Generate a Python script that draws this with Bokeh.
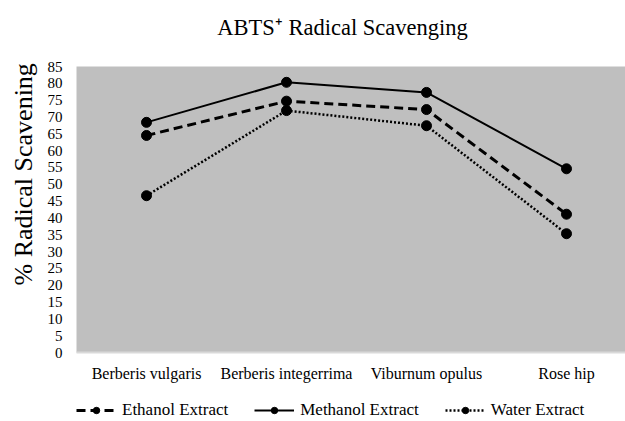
from bokeh.plotting import figure
from bokeh.layouts import column
from bokeh.models import (FixedTicker, Range1d, Legend, LegendItem, Label, Title, ColumnDataSource)
from bokeh.embed import file_html
from bokeh.resources import INLINE

categories = ["Berberis vulgaris", "Berberis integerrima", "Viburnum opulus", "Rose hip"]
ethanol = [64.5, 74.7, 72.2, 41.1]
methanol = [68.4, 80.3, 77.3, 54.6]
water = [46.6, 71.9, 67.4, 35.3]
series_names = ["Ethanol Extract", "Methanol Extract", "Water Extract"]
y_ticks = list(range(0, 90, 5))
title_text = "ABTS\u207a Radical Scavenging"
y_title = "% Radical Scavening"

FONT = "Liberation Serif"
xpos = [i + 0.5 for i in range(len(categories))]

# ---- title strip
tf = figure(width=625, height=46, output_backend="svg", toolbar_location=None,
            x_range=Range1d(0, 1), y_range=Range1d(0, 1),
            x_axis_type=None, y_axis_type=None,
            min_border_left=76, min_border_right=0, min_border_top=0, min_border_bottom=0)
tf.outline_line_color = None
tf.grid.visible = False
tf.add_layout(Label(x=(342 - 76) / 549, y=1 - 27 / 46, text=title_text,
                    text_align="center", text_baseline="middle",
                    text_font=FONT, text_font_size="22.5px", text_color="black"))

# ---- main plot
p = figure(width=625, height=352, output_backend="svg", toolbar_location=None,
           x_range=Range1d(0, 549 / 140), y_range=Range1d(0, 85),
           min_border_left=76, min_border_right=0, min_border_top=20, min_border_bottom=46)
p.background_fill_color = "#bfbfbf"
p.border_fill_color = "white"
p.outline_line_color = None
p.grid.visible = False

xa = p.xaxis[0]
xa.ticker = FixedTicker(ticks=xpos)
xa.major_label_overrides = {x: c for x, c in zip(xpos, categories)}
xa.major_tick_in = 0
xa.major_tick_out = 0
xa.minor_tick_in = 0
xa.minor_tick_out = 0
xa.axis_line_color = "#d9d9d9"
xa.axis_line_width = 2
xa.major_label_standoff = 12
xa.major_label_text_font = FONT
xa.major_label_text_font_size = "16px"
xa.major_label_text_color = "black"

ya = p.yaxis[0]
ya.ticker = FixedTicker(ticks=y_ticks)
ya.major_tick_in = 0
ya.major_tick_out = 0
ya.minor_tick_in = 0
ya.minor_tick_out = 0
ya.axis_line_color = None
ya.major_label_standoff = 14
ya.major_label_text_font = FONT
ya.major_label_text_font_size = "15px"
ya.major_label_text_color = "black"

p.add_layout(Title(text=y_title, align="left", offset=67, vertical_align="middle",
                   standoff=12, text_font=FONT, text_font_size="26px",
                   text_font_style="normal", text_color="black"), "left")

styles = [
    dict(line_dash="9 5", line_width=3),
    dict(line_width=2),
    dict(line_dash="2 2", line_width=2.5),
]
series = [ethanol, methanol, water]
for vals, st in zip(series, styles):
    src = ColumnDataSource(dict(x=xpos, y=vals))
    p.line("x", "y", source=src, line_color="black", **st)
    p.scatter("x", "y", source=src, size=10, color="black")

# ---- legend strip (series drawn out of view; only the legend shows)
lg = figure(width=625, height=23, output_backend="svg", toolbar_location=None,
            x_range=Range1d(0, 1), y_range=Range1d(0, 1),
            x_axis_type=None, y_axis_type=None,
            min_border_left=76, min_border_right=0, min_border_top=0, min_border_bottom=0)
lg.outline_line_color = None
lg.grid.visible = False
items = []
for name, vals, st in zip(series_names, series, styles):
    src = ColumnDataSource(dict(x=xpos, y=vals))
    lr = lg.line("x", "y", source=src, line_color="black", **st)
    sr = lg.scatter("x", "y", source=src, size=10, color="black")
    items.append(LegendItem(label=name, renderers=[lr, sr]))

legend = Legend(items=items, orientation="horizontal", location=(0, 1),
                glyph_width=40, glyph_height=16, spacing=26, label_standoff=6,
                padding=0, margin=0,
                label_text_font=FONT, label_text_font_size="17px", label_text_color="black",
                border_line_color=None, background_fill_alpha=0)
lg.add_layout(legend, "center")

layout = column(tf, p, lg, spacing=0)
open("out.html", "w").write(file_html(layout, INLINE))
